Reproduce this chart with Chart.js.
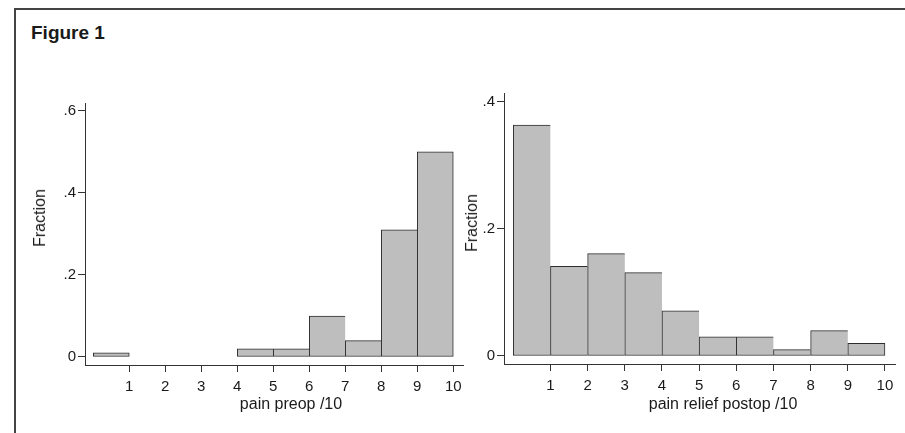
<!DOCTYPE html>
<html>
<head>
<meta charset="utf-8">
<script src="https://cdn.jsdelivr.net/npm/chart.js@4.4.1/dist/chart.umd.min.js"></script>
<style>
  body { margin: 0; width: 905px; height: 433px; position: relative; overflow: hidden; background: #fff;
         font-family: "Liberation Sans", Arial, Helvetica, sans-serif; color: #1a1a1a; }
  .frame { position: absolute; left: 14px; top: 8px; width: 900px; height: 440px;
           border-top: 2px solid #444; border-left: 2px solid #444; }
  .fig-title { position: absolute; left: 31px; top: 23px; font-size: 19px; line-height: 19px; font-weight: bold; }
  .lbl { position: absolute; font-size: 16px; line-height: 16px; white-space: nowrap; transform: translate(-50%, -50%); }
  .lbl.rot { transform: translate(-50%, -50%) rotate(-90deg); }
  canvas { position: absolute; top: 0; }
</style>
</head>
<body>
<div class="frame"></div>
<div class="fig-title">Figure 1</div>
<canvas id="preop" width="468" height="433" style="left:0"></canvas>
<canvas id="postop" width="437" height="433" style="left:468px"></canvas>
<div class="lbl rot" style="left:39.5px; top:218px">Fraction</div>
<div class="lbl rot" style="left:472px; top:223px">Fraction</div>
<div class="lbl" style="left:291px; top:403.5px">pain preop /10</div>
<div class="lbl" style="left:723px; top:403.5px">pain relief postop /10</div>

<script>
// histogram bins (width 1) and fractions
const binStarts = [0, 1, 2, 3, 4, 5, 6, 7, 8, 9];
const xTicks = [1, 2, 3, 4, 5, 6, 7, 8, 9, 10];
const preopFraction = [0.01, 0, 0, 0, 0.02, 0.02, 0.10, 0.04, 0.31, 0.50];
const postopFraction = [0.363, 0.141, 0.161, 0.131, 0.071, 0.030, 0.030, 0.010, 0.040, 0.020];
const preopYTicks = [0, 0.2, 0.4, 0.6];
const postopYTicks = [0, 0.2, 0.4];

Chart.defaults.font.family = '"Liberation Sans", Arial, Helvetica, sans-serif';
Chart.defaults.font.size = 15;
Chart.defaults.color = '#1a1a1a';

const axisColor = '#333';

// Stata-style tick label: ".2" instead of "0.2"
function yTickLabel(v) {
    return v === 0 ? '0' : String(v).replace(/^0/, '');
}

function makeHist(id, vals, yTicks, opts) {
    const ctx = document.getElementById(id).getContext('2d');
    const points = binStarts.map((s, i) => ({ x: s + 0.5, y: vals[i] ? vals[i] : null }));

    return new Chart(ctx, {
        type: 'bar',
        data: {
            datasets: [{
                data: points,
                backgroundColor: '#bebebe',
                borderColor: '#2e2e2e',
                borderSkipped: false,
                // avoid doubled lines between neighbouring bars
                borderWidth: c => ({ top: 1, left: 1, bottom: 1, right: vals[c.dataIndex + 1] ? 0 : 1 }),
                barPercentage: 1,
                categoryPercentage: 1,
                grouped: false
            }]
        },
        options: {
            responsive: false,
            animation: false,
            devicePixelRatio: 1,
            layout: { padding: opts.padding },
            plugins: { legend: { display: false }, tooltip: { enabled: false } },
            scales: {
                x: {
                    type: 'linear',
                    offset: false,
                    min: opts.xMin,
                    max: opts.xMax,
                    afterBuildTicks: s => { s.ticks = xTicks.map(v => ({ value: v })); },
                    afterFit: s => { s.height = opts.xHeight; },
                    ticks: { padding: 6, maxRotation: 0, autoSkip: false, callback: v => String(v) },
                    grid: { offset: false, drawOnChartArea: false, drawTicks: true, tickLength: 7, color: axisColor },
                    border: { display: true, color: axisColor, width: 1 }
                },
                y: {
                    min: opts.yMin,
                    max: opts.yMax,
                    afterBuildTicks: s => { s.ticks = yTicks.map(v => ({ value: v })); },
                    afterFit: s => { s.width = opts.yWidth; },
                    ticks: { padding: 2, callback: v => yTickLabel(v) },
                    grid: { offset: false, drawOnChartArea: false, drawTicks: true, tickLength: 7, color: axisColor },
                    border: { display: true, color: axisColor, width: 1 }
                }
            }
        }
    });
}

makeHist('preop', preopFraction, preopYTicks, {
    padding: { left: 0, right: 5, top: 103, bottom: 0 },
    yWidth: 85, xHeight: 68,
    xMin: -0.23, xMax: 10.27, yMin: -0.0195, yMax: 0.619
});

makeHist('postop', postopFraction, postopYTicks, {
    padding: { left: 0, right: 10, top: 93, bottom: 0 },
    yWidth: 36, xHeight: 69,
    xMin: -0.25, xMax: 10.27, yMin: -0.0126, yMax: 0.4135
});
</script>
</body>
</html>
